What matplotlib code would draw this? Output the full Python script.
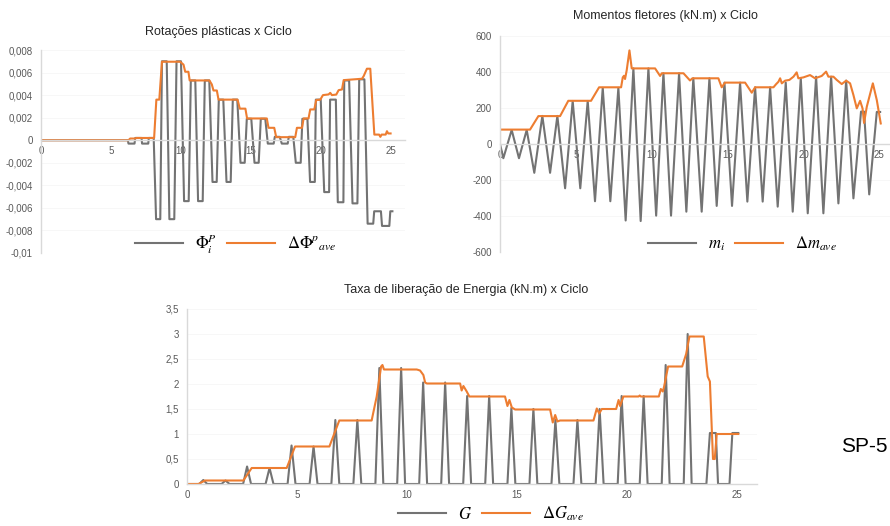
import matplotlib
matplotlib.use("Agg")
import matplotlib.pyplot as plt
from matplotlib.ticker import FuncFormatter, MultipleLocator

plt.rcParams['font.family'] = ['Liberation Sans', 'DejaVu Sans']
plt.rcParams['mathtext.fontset'] = 'stix'

# ---------------- data ----------------
# Rotações plásticas (gray: Phi_i^P, orange: ΔΦ^p_ave)
rot_x = [0, 6.2, 6.25, 6.68, 6.73, 7.18, 7.22, 7.66, 7.7, 8.05, 8.22, 8.52, 8.64, 8.98,
         9.17, 9.52, 9.68, 10.0, 10.22, 10.55, 10.7, 11.02, 11.22, 11.55, 11.7, 12.02,
         12.25, 12.55, 12.7, 13.02, 13.25, 13.55, 13.7, 14.02, 14.25, 14.55, 14.7, 15.02,
         15.25, 15.55, 15.7, 16.02, 16.2, 16.62, 16.7, 17.05, 17.2, 17.62, 17.7, 18.02,
         18.2, 18.55, 18.67, 19.03, 19.22, 19.56, 19.63, 19.98, 20.23, 20.58, 20.65, 21.06,
         21.2, 21.6, 21.66, 22.01, 22.25, 22.6, 22.73, 23.1, 23.33, 23.73, 23.8, 24.28,
         24.36, 24.88, 24.95, 25.1]
rot_phi = [0, 0, -0.0003, -0.0003, 0.0002, 0.0002, -0.0003, -0.0003, 0.0002, 0.0002,
           -0.0070, -0.0070, 0.0070, 0.0070, -0.0070, -0.0070, 0.0070, 0.0070,
           -0.0054, -0.0054, 0.0053, 0.0053, -0.0054, -0.0054, 0.0053, 0.0053,
           -0.0037, -0.0037, 0.0036, 0.0036, -0.0037, -0.0037, 0.0036, 0.0036,
           -0.0020, -0.0020, 0.0019, 0.0019, -0.0020, -0.0020, 0.0019, 0.0019,
           -0.0003, -0.0003, 0.0003, 0.0003, -0.0003, -0.0003, 0.0003, 0.0003,
           -0.0020, -0.0020, 0.0019, 0.0019, -0.0037, -0.0037, 0.0036, 0.0036,
           -0.0046, -0.0046, 0.0036, 0.0036, -0.0055, -0.0055, 0.0053, 0.0053,
           -0.0056, -0.0056, 0.0054, 0.0054, -0.0074, -0.0074, -0.0063, -0.0063,
           -0.0076, -0.0076, -0.0063, -0.0063]
rot_avg_x = [0, 6.25, 6.37, 6.73, 6.8, 8.08, 8.24, 8.45, 8.64, 9.94, 10.18, 10.3, 10.53,
             10.62, 12.03, 12.2, 12.32, 12.56, 12.68, 14.04, 14.2, 14.6, 14.72, 16.13,
             16.25, 16.66, 16.8, 18.16, 18.28, 18.64, 18.76, 19.11, 19.23, 19.52, 19.66,
             19.95, 20.14, 20.54, 20.66, 20.78, 21.09, 21.26, 21.5, 21.62, 22.93, 23.05,
             23.28, 23.52, 23.81, 24.15, 24.24, 24.33, 24.62, 24.71, 24.8, 24.97]
rot_avg = [0, 0, 0.00015, 0.00015, 0.0002, 0.0002, 0.0036, 0.0036, 0.00696, 0.00696,
           0.0067, 0.00607, 0.00607, 0.0053, 0.0053, 0.00495, 0.00441, 0.00441, 0.0036,
           0.0036, 0.0028, 0.0028, 0.00193, 0.00193, 0.0011, 0.0011, 0.00027, 0.00027,
           0.0011, 0.0011, 0.00193, 0.00193, 0.00273, 0.00273, 0.00356, 0.0036, 0.004,
           0.00406, 0.0042, 0.004, 0.00405, 0.00444, 0.0045, 0.00533, 0.00545, 0.00569,
           0.00634, 0.00634, 0.0005, 0.0005, 0.0003, 0.0005, 0.0005, 0.0008, 0.0006, 0.0006]

# Momentos fletores (gray: m_i, orange: Δm_ave)
mom_x = [0, 0.22, 0.77, 1.25, 1.76, 2.26, 2.79, 3.3, 3.78, 4.29, 4.79, 5.29, 5.78, 6.26,
         6.77, 7.27, 7.8, 8.28, 8.79, 9.27, 9.78, 10.29, 10.77, 11.27, 11.8, 12.28, 12.74,
         13.29, 13.8, 14.28, 14.79, 15.29, 15.82, 16.3, 16.81, 17.31, 17.8, 18.3, 18.83,
         19.29, 19.82, 20.28, 20.83, 21.31, 21.82, 22.3, 22.81, 23.29, 23.79, 23.99, 24.33,
         24.83, 25.05]
mom_m = [0, -79, 78, -79, 78, -160, 156, -160, 156, -246, 239, -246, 239, -318, 312, -318,
         312, -425, 420, -428, 420, -398, 393, -398, 393, -376, 365, -376, 365, -344, 341,
         -344, 341, -320, 315, -320, 315, -348, 341, -376, 365, -385, 374, -385, 374, -330,
         352, -302, 180, 180, -280, 178, 178]
mom_avg_x = [0, 0, 1.98, 2.53, 3.96, 4.5, 6.0, 6.53, 7.98, 8.09, 8.17, 8.24, 8.35, 8.53,
             8.68, 10.22, 10.55, 10.66, 12.09, 12.52, 12.68, 14.39, 14.61, 14.83, 16.15,
             16.59, 16.81, 18.02, 18.19, 18.35, 18.46, 18.57, 18.79, 19.07, 19.34, 19.55,
             19.66, 19.99, 20.43, 20.76, 21.2, 21.49, 21.64, 21.97, 22.19, 22.52, 22.81,
             23.07, 23.29, 23.51, 23.73, 23.89, 23.99, 24.17, 24.57, 24.83, 25.09]
mom_avg = [0, 80, 80, 155, 155, 240, 240, 315, 315, 370, 379, 361, 410, 520, 420, 420, 378,
           393, 393, 353, 365, 365, 315, 341, 341, 285, 315, 315, 332, 346, 365, 337, 352,
           356, 374, 398, 365, 370, 383, 365, 378, 402, 374, 374, 356, 333, 352, 337, 272,
           198, 240, 198, 117, 207, 337, 244, 114]

# Taxa de liberação de energia (gray: G, orange: ΔG_ave)
g_x = [0, 0.56, 0.74, 0.92, 1.57, 1.75, 1.93, 2.55, 2.73, 2.91, 3.57, 3.75, 3.93, 4.57,
       4.75, 4.93, 5.57, 5.75, 5.93, 6.56, 6.74, 6.92, 7.56, 7.74, 7.92, 8.56, 8.74, 8.92,
       9.55, 9.73, 9.91, 10.55, 10.73, 10.91, 11.55, 11.73, 11.91, 12.55, 12.73, 12.91,
       13.55, 13.73, 13.91, 14.56, 14.74, 14.92, 15.56, 15.74, 15.92, 16.56, 16.74, 16.92,
       17.56, 17.74, 17.92, 18.57, 18.75, 18.93, 19.57, 19.75, 19.93, 20.57, 20.75, 20.93,
       21.57, 21.75, 21.93, 22.57, 22.75, 22.93, 23.6, 23.76, 24.03, 24.13, 24.65, 24.78,
       25.05]
g_val = [0, 0, 0.08, 0, 0, 0.07, 0, 0, 0.35, 0, 0, 0.32, 0, 0, 0.77, 0, 0, 0.75, 0, 0,
         1.28, 0, 0, 1.28, 0, 0, 2.32, 0, 0, 2.32, 0, 0, 2.03, 0, 0, 2.03, 0, 0, 1.76, 0,
         0, 1.76, 0, 0, 1.52, 0, 0, 1.5, 0, 0, 1.28, 0, 0, 1.28, 0, 0, 1.5, 0, 0, 1.76, 0,
         0, 1.76, 0, 0, 2.38, 0, 0, 3.0, 0, 0, 1.02, 1.02, 0, 0, 1.02, 1.02]
g_avg_x = [0, 0.52, 0.82, 2.56, 2.94, 4.53, 4.91, 6.47, 6.92, 8.39, 8.62, 8.82, 8.88, 8.95,
           10.44, 10.59, 10.74, 10.82, 10.9, 12.41, 12.48, 12.56, 12.71, 12.83, 14.45,
           14.56, 14.65, 14.76, 14.91, 16.5, 16.62, 16.73, 16.83, 16.95, 18.47, 18.62,
           18.73, 18.85, 19.5, 19.61, 19.68, 19.83, 20.52, 20.57, 20.62, 21.44, 21.53,
           21.62, 21.68, 21.86, 22.5, 22.68, 22.83, 23.48, 23.66, 23.76, 23.9, 23.98,
           24.07, 25.05]
g_avg = [0, 0, 0.07, 0.07, 0.32, 0.32, 0.75, 0.75, 1.27, 1.27, 1.75, 2.35, 2.38, 2.29,
         2.29, 2.27, 2.18, 2.03, 2.01, 2.01, 1.87, 1.96, 1.85, 1.75, 1.75, 1.56, 1.68, 1.53,
         1.49, 1.49, 1.23, 1.38, 1.25, 1.27, 1.27, 1.51, 1.41, 1.5, 1.5, 1.68, 1.56, 1.75,
         1.75, 1.77, 1.75, 1.75, 1.9, 1.85, 1.95, 2.35, 2.35, 2.6, 2.95, 2.95, 2.15, 2.05,
         0.5, 0.5, 1.0, 1.0]

x_ticks = [0, 5, 10, 15, 20, 25]

GRAY = '#737373'
ORANGE = '#ED7D31'
AXC = '#d9d9d9'
TXT = '#595959'

W, H = 890, 526
fig = plt.figure(figsize=(W / 100, H / 100), dpi=100)


def rect(l, r, t, b):
    return [l / W, 1 - b / H, (r - l) / W, (b - t) / H]


def fmt(v, pos):
    s = f"{v:g}".replace('.', ',')
    return '0' if s in ('-0', '0') else s


def style(ax, ylim, ystep, xlim):
    ax.set_xlim(*xlim)
    ax.set_ylim(*ylim)
    ax.yaxis.set_major_locator(MultipleLocator(ystep))
    ax.yaxis.set_major_formatter(FuncFormatter(fmt))
    ax.set_xticks(x_ticks)
    for s in ('top', 'right'):
        ax.spines[s].set_visible(False)
    ax.spines['left'].set_color(AXC)
    ax.spines['bottom'].set_color(AXC)
    ax.spines['bottom'].set_position(('data', 0))
    ax.spines['left'].set_linewidth(1.0)
    ax.spines['bottom'].set_linewidth(1.0)
    ax.tick_params(length=0, labelsize=7, colors=TXT)
    ax.tick_params(axis='y', pad=6)
    ax.tick_params(axis='x', pad=4)
    ax.grid(axis='y', color='#f6f6f6', lw=0.6)
    ax.set_axisbelow(True)
    ax.patch.set_alpha(0)


LEG = dict(ncol=2, frameon=False, loc='center', bbox_transform=fig.transFigure,
           fontsize=12, handlelength=2.9, columnspacing=0.6, handletextpad=0.7)

# top-left
ax1 = fig.add_axes(rect(41, 405, 50, 253))
style(ax1, (-0.01, 0.008), 0.002, (0, 26))
l1, = ax1.plot(rot_x, rot_phi, color=GRAY, lw=1.5)
l2, = ax1.plot(rot_avg_x, rot_avg, color=ORANGE, lw=1.5)
ax1.legend([l1, l2], [r'$\mathit{\Phi}_i^P$', r'$\Delta\mathit{\Phi}^{p}{}_{ave}$'],
           bbox_to_anchor=(236 / W, 1 - 244 / H), **LEG)
fig.text(218 / W, 1 - 32 / H, 'Rotações plásticas x Ciclo', ha='center', va='center',
         fontsize=9, color='#262626')

# top-right
ax2 = fig.add_axes(rect(500, 890, 36, 252))
style(ax2, (-600, 600), 200, (0, 25.7))
m1, = ax2.plot(mom_x, mom_m, color=GRAY, lw=1.5)
m2, = ax2.plot(mom_avg_x, mom_avg, color=ORANGE, lw=1.5)
ax2.legend([m1, m2], [r'$m_i$', r'$\Delta m_{ave}$'],
           bbox_to_anchor=(742 / W, 1 - 244 / H), **LEG)
fig.text(665 / W, 1 - 16 / H, 'Momentos fletores (kN.m) x Ciclo', ha='center',
         va='center', fontsize=9, color='#262626')

# bottom
ax3 = fig.add_axes(rect(187, 757, 309, 484))
style(ax3, (0, 3.5), 0.5, (0, 25.9))
g1, = ax3.plot(g_x, g_val, color=GRAY, lw=1.5)
g2, = ax3.plot(g_avg_x, g_avg, color=ORANGE, lw=1.5)
ax3.legend([g1, g2], [r'$G$', r'$\Delta G_{ave}$'],
           bbox_to_anchor=(491 / W, 1 - 514 / H), **LEG)
fig.text(466 / W, 1 - 290 / H, 'Taxa de liberação de Energia (kN.m) x Ciclo',
         ha='center', va='center', fontsize=9, color='#262626')

fig.text(888 / W, 1 - 447 / H, 'SP-5', ha='right', va='center', fontsize=15,
         color='black')

fig.savefig('out.png', dpi=100)
